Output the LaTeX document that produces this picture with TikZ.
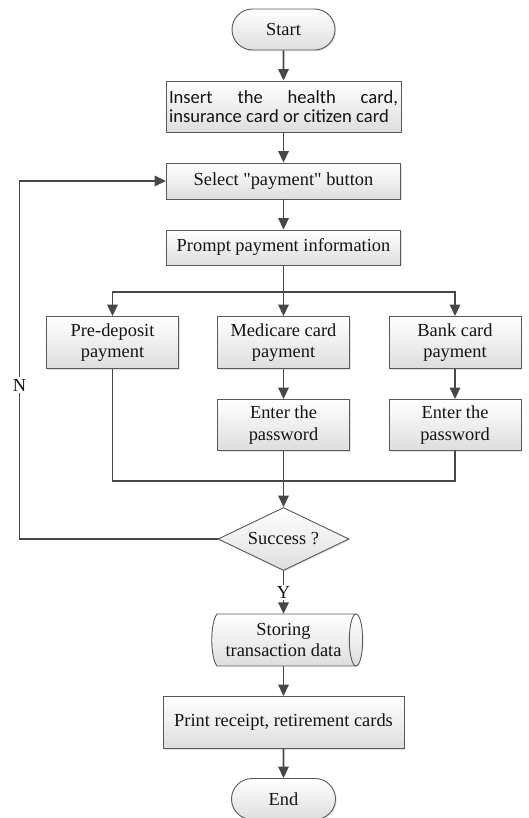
\documentclass[tikz,border=0pt]{standalone}
\usepackage{fontspec}
\setmainfont{Liberation Serif}
\newfontfamily\qf{Liberation Serif}
\newfontfamily\calfont{Carlito}
\usetikzlibrary{shapes.geometric,shapes.misc,arrows.meta,shadows}
\hbadness=10000
\begin{document}
\begin{tikzpicture}[x=1pt,y=-1pt,
  font=\fontsize{18.4}{21.5}\selectfont,
  base/.style={draw=black!65,line width=0.9pt,top color=white,bottom color=black!13,
    text=black!92,inner sep=2pt,align=center,
    drop shadow={shadow xshift=1.2pt,shadow yshift=-1.2pt,fill=black!22}},
  box/.style={base,rectangle},
  term/.style={base,rounded rectangle},
  dec/.style={base,diamond,aspect=2,inner sep=0pt},
  conn/.style={draw=black!72,line width=1.7pt},
  arr/.style={conn,-{Triangle[length=11.5pt,width=10.5pt]}},
  lab/.style={fill=white,text=black!92,inner sep=1.5pt}
]
\useasboundingbox (0,0) rectangle (528,818);

% nodes
\node[term,minimum width=107pt,minimum height=41pt] (start) at (283.5,29.5) {Start};
\node[box,minimum height=51pt,text width=229pt,inner xsep=3pt,align=justify,
      font=\calfont\fontsize{18.6}{18.3}\selectfont] (insert) at (283.5,106.5)
      {Insert the health card,\linebreak insurance card or citizen card};
\node[box,minimum width=234pt,minimum height=36pt] (select) at (283.5,181) {Select {\qf "}payment{\qf "} button};
\node[box,minimum width=234pt,minimum height=35pt] (prompt) at (283.5,247.5) {Prompt payment information};
\coordinate (split) at (283.5,291.7);
\node[box,minimum width=132pt,minimum height=52pt] (pre) at (112.5,342.5) {Pre-deposit\\payment};
\node[box,minimum width=132pt,minimum height=52pt] (med) at (283.5,342.5) {Medicare card\\payment};
\node[box,minimum width=132pt,minimum height=52pt] (bank) at (455,342.5) {Bank card\\payment};
\node[box,minimum width=132pt,minimum height=51pt] (pw1) at (283.5,425) {Enter the\\password};
\node[box,minimum width=132pt,minimum height=51pt] (pw2) at (455,425) {Enter the\\password};
\coordinate (merge) at (283.5,480.7);
\node[dec,minimum width=131pt,minimum height=63pt] (dia) at (283.5,539) {Success ?};
\coordinate (lc1) at (19.5,539);
\coordinate (lc2) at (19.5,181);

% storage shape
\path[draw=black!65,line width=0.9pt,top color=white,bottom color=black!13]
  (217,614) -- (356,614)
  .. controls (359.7,614) and (362.7,625.6) .. (362.7,640)
  .. controls (362.7,654.4) and (359.7,666) .. (356,666)
  -- (217,666)
  .. controls (210,657) and (210,623) .. (217,614) -- cycle;
\draw[draw=black!65,line width=0.9pt] (356,614)
  .. controls (352.3,614) and (349.3,625.6) .. (349.3,640)
  .. controls (349.3,654.4) and (352.3,666) .. (356,666);
\node[inner sep=0pt,minimum width=130pt,minimum height=52pt,align=center,text=black!92] (store) at (283.5,640) {Storing\\transaction data};

\node[box,minimum width=241pt,minimum height=52pt] (print) at (283.5,722.5) {Print receipt, retirement cards};
\node[term,minimum width=108pt,minimum height=41pt] (end) at (283.5,799) {End};

% connectors
\draw[arr] (start) -- (insert);
\draw[arr] (insert) -- (select);
\draw[arr] (select) -- (prompt);
\draw[conn] (prompt) -- (split);
\draw[arr] (split) -| (pre.north);
\draw[arr] (split) -| (bank.north);
\draw[arr] (split) -- (med.north);
\draw[arr] (med) -- (pw1);
\draw[arr] (bank) -- (pw2);
\draw[conn] (pre.south) |- (merge);
\draw[conn] (pw2.south) |- (merge);
\draw[conn] (pw1.south) -- (merge);
\draw[arr] (merge) -- (dia.north);
\draw[arr] (dia.west) -- (lc1) -- (lc2) -- (select.west);
\node[lab] (nlab) at (19.5,385) {N};
\draw[arr] (dia.south) -- node[lab] (ylab) {Y} (store.north);
\draw[arr] (store) -- (print);
\draw[arr] (print) -- (end);
\end{tikzpicture}
\end{document}
